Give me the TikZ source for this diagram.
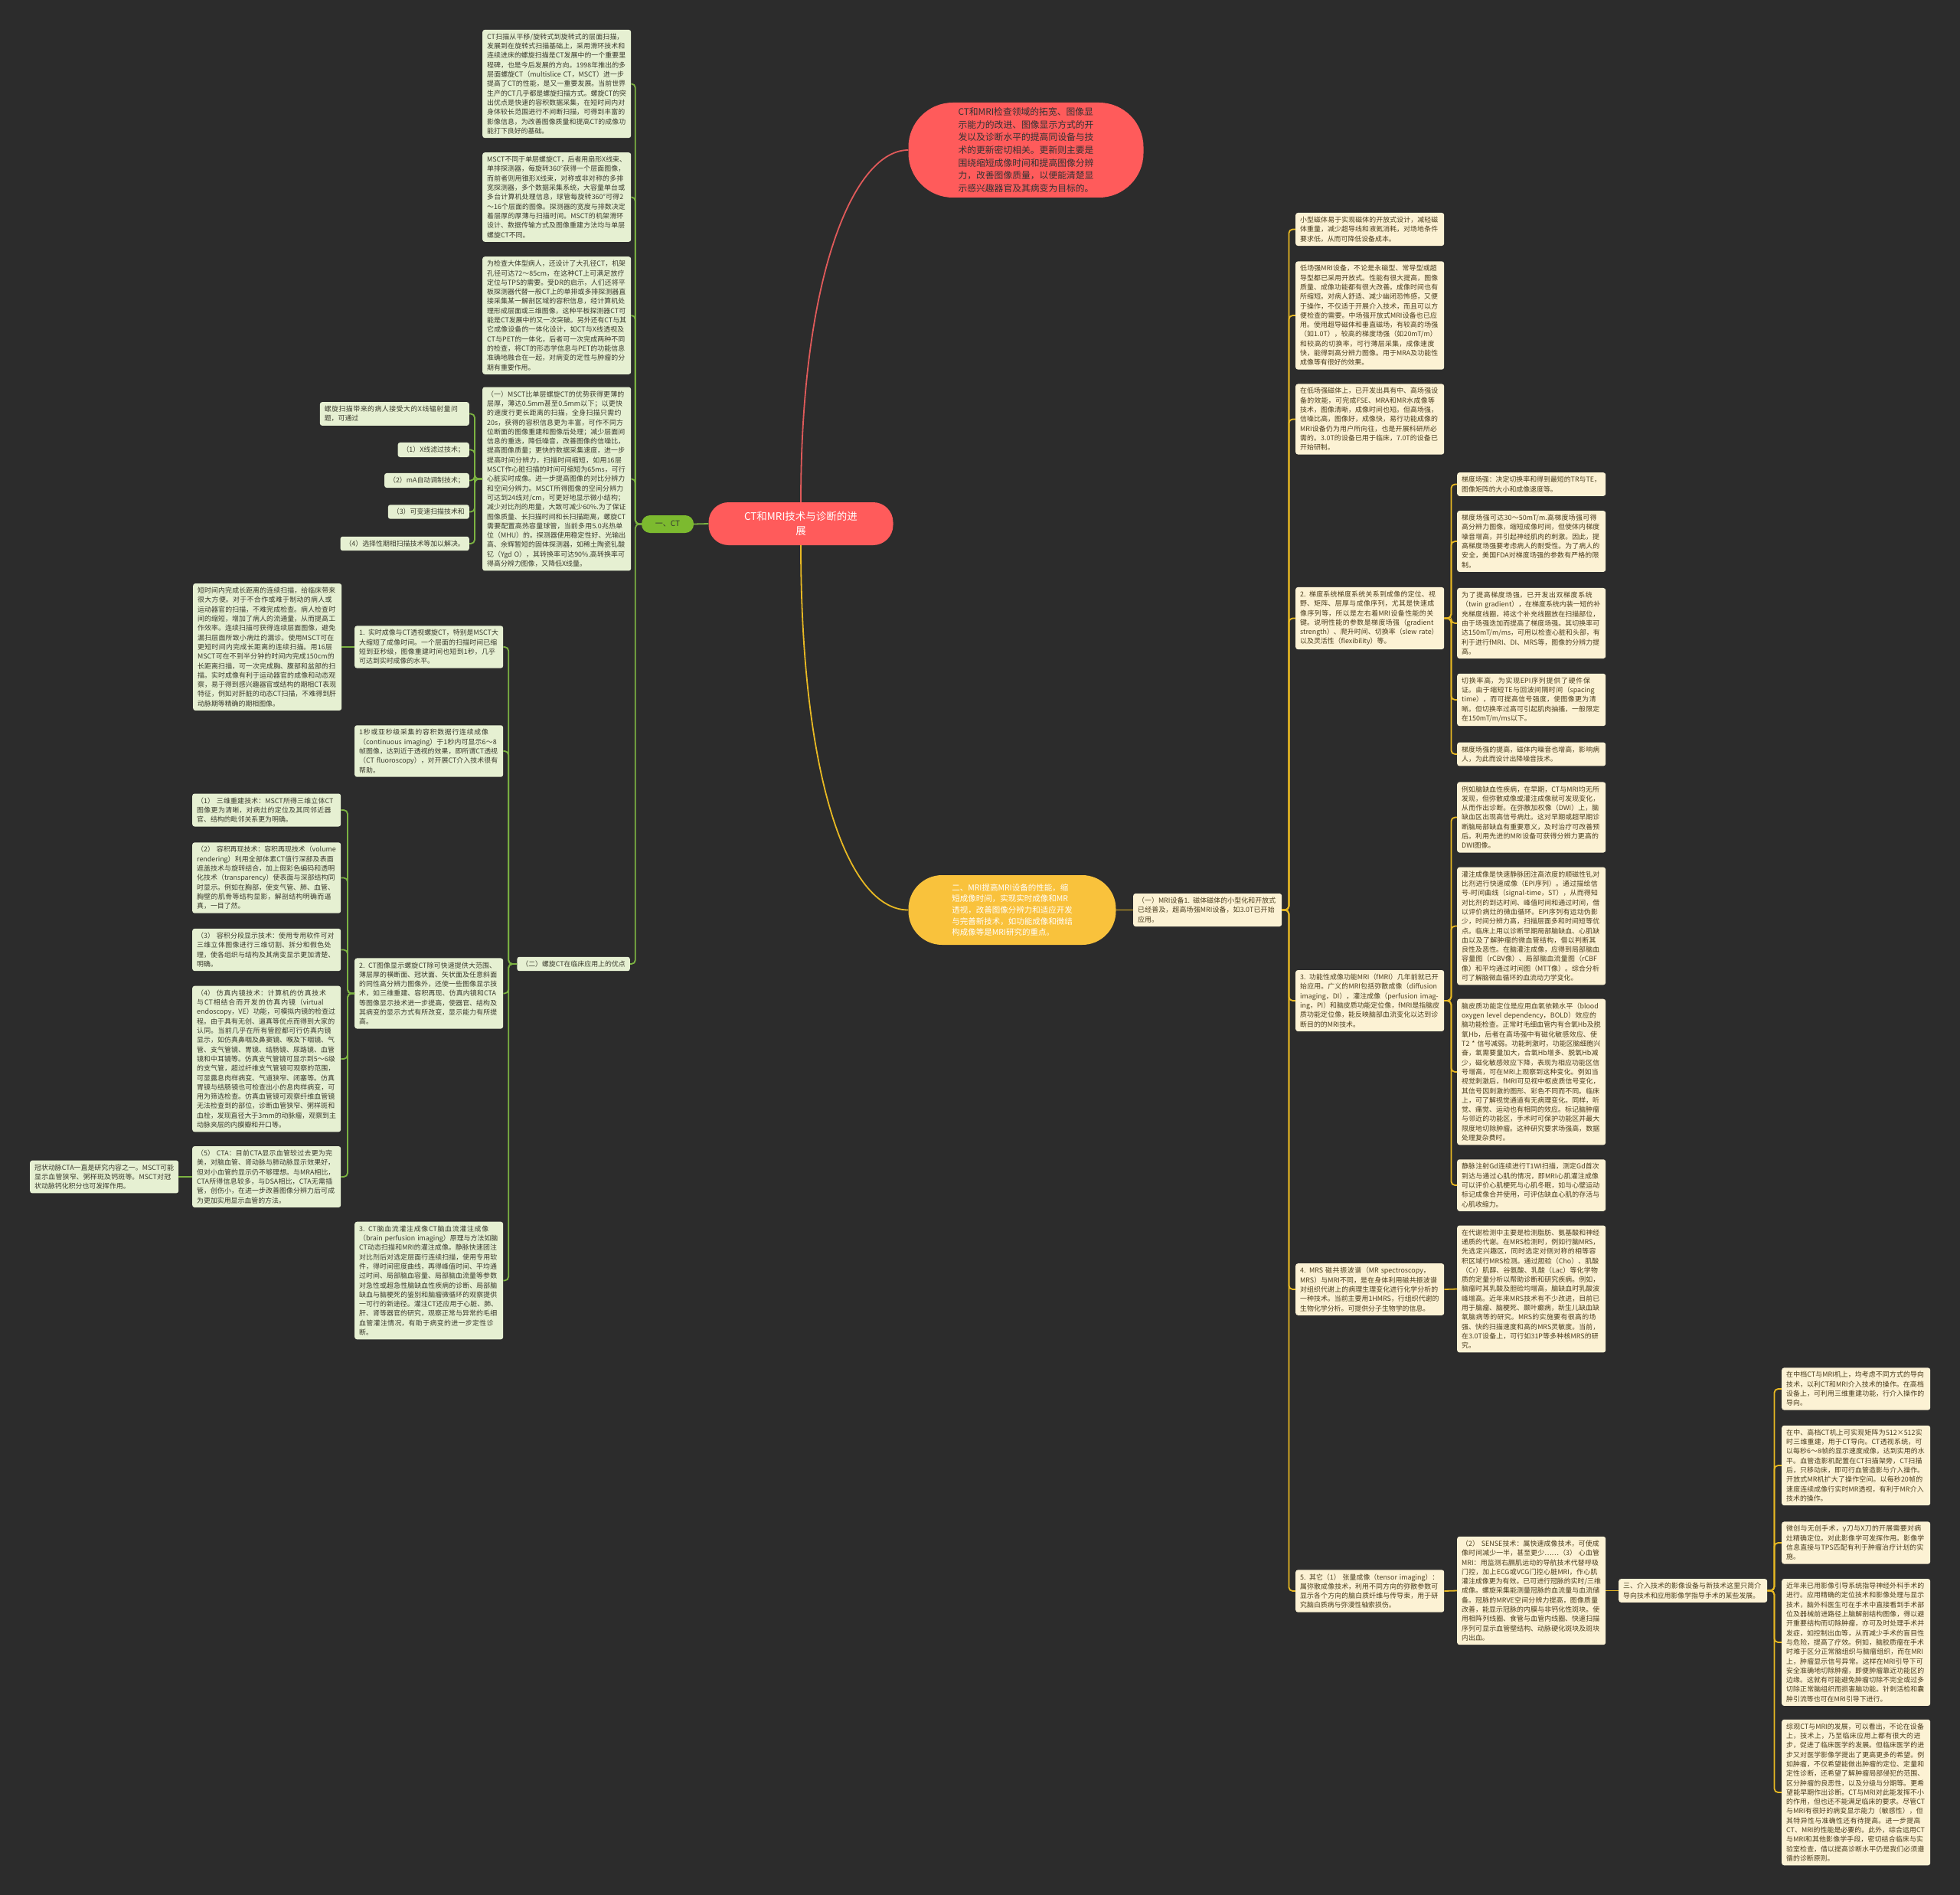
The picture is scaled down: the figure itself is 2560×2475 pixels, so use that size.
\documentclass[tikz,border=0pt]{standalone}
\usepackage{fontspec}
\setmainfont{Noto Sans CJK SC}
\usepackage{xcolor}
\usetikzlibrary{positioning,calc}
\XeTeXlinebreaklocale "zh"
\XeTeXlinebreakskip=0pt plus 1pt
\definecolor{bgdark}{HTML}{2C2C2C}
\definecolor{ctfill}{HTML}{E6F0D2}
\definecolor{cttext}{HTML}{3A3A2C}
\definecolor{ctline}{HTML}{7CB342}
\definecolor{mrfill}{HTML}{FCF2D4}
\definecolor{mrtext}{HTML}{4A3C1C}
\definecolor{mrline}{HTML}{E8B923}
\definecolor{topred}{HTML}{FF5B5B}
\definecolor{redline}{HTML}{E05A5A}
\definecolor{mrorange}{HTML}{F9C23C}
\definecolor{ctgreen}{HTML}{7CBA2F}
\newcommand{\boxfont}{\fontsize{8.9}{12.3}\selectfont}

\begin{document}
\begin{tikzpicture}[x=1pt,y=-1pt,
  ctbox/.style={rectangle, rounded corners=3pt, fill=ctfill, text=cttext, font=\boxfont,
                text width=182pt, align=left, inner xsep=6pt, inner ysep=5pt, anchor=west},
  ctleaf/.style={rectangle, rounded corners=3pt, fill=ctfill, text=cttext, font=\boxfont,
                 inner xsep=6pt, inner ysep=5pt, anchor=east},
  mrbox/.style={rectangle, rounded corners=3pt, fill=mrfill, text=mrtext, font=\boxfont,
                text width=182pt, align=left, inner xsep=6pt, inner ysep=5pt, anchor=west},
  gline/.style={draw=ctline, line width=1.8pt, rounded corners=5pt},
  yline/.style={draw=mrline, line width=1.8pt, rounded corners=5pt}]
  \fill[bgdark] (0,0) rectangle (2560,2475);
  % root and main topics
  \node[fill=topred, text=white, rounded corners=26pt, minimum width=241pt, minimum height=56pt,
        font=\fontsize{13.5}{19}\selectfont, align=center] (root) at (1046,684)
        {CT和MRI技术与诊断的进\\展};
  \node[fill=topred, text=black!80, rounded corners=58pt, minimum width=307pt, minimum height=124pt,
        font=\fontsize{11.8}{16.6}\selectfont, align=left] (intro) at (1340,196)
        {CT和MRI检查领域的拓宽、图像显\\示能力的改进、图像显示方式的开\\发以及诊断水平的提高同设备与技\\术的更新密切相关。更新则主要是\\围绕缩短成像时间和提高图像分辨\\力，改善图像质量，以便能清楚显\\示感兴趣器官及其病变为目标的。};
  \node[fill=ctgreen, text=black!80, rounded corners=11pt, minimum width=68pt, minimum height=23pt,
        font=\fontsize{10}{12}\selectfont] (ct) at (872,684.5) {一、CT};
  \node[fill=mrorange, text=white, rounded corners=44pt, minimum width=271pt, minimum height=91pt,
        font=\fontsize{10.5}{14.6}\selectfont, align=left] (mri) at (1322,1188.5)
        {二、MRI提高MRI设备的性能，缩\\短成像时间，实现实时成像和MR\\透视，改善图像分辨力和适应开发\\与完善新技术，如功能成像和微结\\构成像等是MRI研究的重点。};

  % CT branch
  \node[ctbox] (ct1) at (630,109.5) {CT扫描从平移/旋转式到旋转式的层面扫描，发展到在旋转式扫描基础上，采用滑环技术和连续进床的螺旋扫描是CT发展中的一个重要里程碑，也是今后发展的方向。1998年推出的多层面螺旋CT（multislice CT，MSCT）进一步提高了CT的性能，是又一重要发展。当前世界生产的CT几乎都是螺旋扫描方式。螺旋CT的突出优点是快速的容积数据采集，在短时间内对身体较长范围进行不间断扫描，可得到丰富的影像信息，为改善图像质量和提高CT的成像功能打下良好的基础。};
  \node[ctbox] (ct2) at (630,257.5) {MSCT不同于单层螺旋CT，后者用扇形X线束、单排探测器，每旋转360°获得一个层面图像，而前者则用锥形X线束，对称或非对称的多排宽探测器，多个数据采集系统，大容量单台或多台计算机处理信息，球管每旋转360°可得2～16个层面的图像。探测器的宽度与排数决定着层厚的厚薄与扫描时间。MSCT的机架滑环设计、数据传输方式及图像重建方法均与单层螺旋CT不同。};
  \node[ctbox] (ct3) at (630,412) {为检查大体型病人，还设计了大孔径CT，机架孔径可达72～85cm，在这种CT上可满足放疗定位与TPS的需要。受DR的启示，人们还将平板探测器代替一般CT上的单排或多排探测器直接采集某一解剖区域的容积信息，经计算机处理形成层面或三维图像，这种平板探测器CT可能是CT发展中的又一次突破。另外还有CT与其它成像设备的一体化设计，如CT与X线透视及CT与PET的一体化，后者可一次完成两种不同的检查，将CT的形态学信息与PET的功能信息准确地融合在一起，对病变的定性与肿瘤的分期有重要作用。};
  \node[ctbox] (msct) at (630,625.5) {（一）MSCT比单层螺旋CT的优势获得更薄的层厚，薄达0.5mm甚至0.5mm以下；以更快的速度行更长距离的扫描，全身扫描只需约20s，获得的容积信息更为丰富，可作不同方位断面的图像重建和图像后处理；减少层面间信息的重迭，降低噪音，改善图像的信噪比，提高图像质量；更快的数据采集速度，进一步提高时间分辨力，扫描时间缩短，如用16层MSCT作心脏扫描的时间可缩短为65ms，可行心脏实时成像。进一步提高图像的对比分辨力和空间分辨力。MSCT所得图像的空间分辨力可达到24线对/cm，可更好地显示微小结构；减少对比剂的用量，大致可减少60\%.为了保证图像质量、长扫描时间和长扫描距离，螺旋CT需要配置高热容量球管，当前多用5.0兆热单位（MHU）的。探测器使用稳定性好、光输出高、余辉暂短的固体探测器，如稀土陶瓷钆酸钇（Ygd O），其转换率可达90\%.高转换率可得高分辨力图像，又降低X线量。};
  \node[ctleaf, text width=183pt, align=left] (dose) at (613,540.5) {螺旋扫描带来的病人接受大的X线辐射量问题，可通过};
  \node[ctleaf] (flt) at (613,587.5) {（1）X线滤过技术；};
  \node[ctleaf] (mas) at (613,627.5) {（2）mA自动调制技术；};
  \node[ctleaf] (vsp) at (613,668.5) {（3）可变速扫描技术和};
  \node[ctleaf] (phs) at (613,710) {（4）选择性期相扫描技术等加以解决。};
  \node[ctleaf] (adv) at (823,1259) {（二）螺旋CT在临床应用上的优点};
  \node[ctbox] (rt1) at (463,845) {1. 实时成像与CT透视螺旋CT，特别是MSCT大大缩短了成像时间。一个层面的扫描时间已缩短到亚秒级，图像重建时间也短到1秒，几乎可达到实时成像的水平。};
  \node[ctbox] (rta) at (252,845) {短时间内完成长距离的连续扫描，给临床带来很大方便。对于不合作或难于制动的病人或运动器官的扫描，不难完成检查。病人检查时间的缩短，增加了病人的流通量，从而提高工作效率。连续扫描可获得连续层面图像，避免漏扫层面所致小病灶的漏诊。使用MSCT可在更短时间内完成长距离的连续扫描。用16层MSCT可在不到半分钟的时间内完成150cm的长距离扫描，可一次完成胸、腹部和盆部的扫描。实时成像有利于运动器官的成像和动态观察，易于得到感兴趣器官或结构的期相CT表现特征，例如对肝脏的动态CT扫描，不难得到肝动脉期等精确的期相图像。};
  \node[ctbox] (rt2) at (463,981) {1秒或亚秒级采集的容积数据行连续成像（continuous imaging）于1秒内可显示6～8帧图像，达到近于透视的效果，即所谓CT透视（CT fluoroscopy），对开展CT介入技术很有帮助。};
  \node[ctbox] (disp) at (463,1297.5) {2. CT图像显示螺旋CT除可快速提供大范围、薄层厚的横断面、冠状面、矢状面及任意斜面的同性高分辨力图像外，还使一些图像显示技术，如三维重建、容积再现、仿真内镜和CTA等图像显示技术进一步提高，使器官、结构及其病变的显示方式有所改变，显示能力有所提高。};
  \node[ctbox] (d1) at (251,1058) {（1） 三维重建技术：MSCT所得三维立体CT图像更为清晰，对病灶的定位及其同邻近器官、结构的毗邻关系更为明确。};
  \node[ctbox] (d2) at (251,1146.5) {（2） 容积再现技术：容积再现技术（volume rendering）利用全部体素CT值行深部及表面遮盖技术与旋转结合，加上假彩色编码和透明化技术（transparency）使表面与深部结构同时显示。例如在胸部，使支气管、肺、血管、胸壁的肌骨等结构显影，解剖结构明确而逼真，一目了然。};
  \node[ctbox] (d3) at (251,1240.5) {（3） 容积分段显示技术：使用专用软件可对三维立体图像进行三维切割、拆分和假色处理，使各组织与结构及其病变显示更加清楚、明确。};
  \node[ctbox] (d4) at (251,1383) {（4） 仿真内镜技术：计算机的仿真技术与CT相结合而开发的仿真内镜（virtual endoscopy，VE）功能，可模拟内镜的检查过程。由于具有无创、逼真等优点而得到大家的认同。当前几乎在所有管腔都可行仿真内镜显示，如仿真鼻咽及鼻窦镜、喉及下咽镜、气管、支气管镜、胃镜、结肠镜、尿路镜、血管镜和中耳镜等。仿真支气管镜可显示到5～6级的支气管，超过纤维支气管镜可观察的范围，可显露息肉样病变、气道狭窄、闭塞等。仿真胃镜与结肠镜也可检查出小的息肉样病变，可用为筛选检查。仿真血管镜可观察纤维血管镜无法检查到的部位，诊断血管狭窄、粥样斑和血栓，发现直径大于3mm的动脉瘤，观察到主动脉夹层的内膜瓣和开口等。};
  \node[ctbox] (d5) at (251,1537) {（5） CTA：目前CTA显示血管较过去更为完美，对脑血管、肾动脉与肺动脉显示效果好，但对小血管的显示仍不够理想。与MRA相比，CTA所得信息较多，与DSA相比，CTA无需插管，创伤小，在进一步改善图像分辨力后可成为更加实用显示血管的方法。};
  \node[ctbox] (d5a) at (39,1537) {冠状动脉CTA一直是研究内容之一。MSCT可能显示血管狭窄、粥样斑及钙斑等。MSCT对冠状动脉钙化积分也可发挥作用。};
  \node[ctbox] (perf) at (463,1672.5) {3. CT脑血流灌注成像CT脑血流灌注成像（brain perfusion imaging）原理与方法如脑CT动态扫描和MRI的灌注成像。静脉快速团注对比剂后对选定层面行连续扫描，使用专用软件，得时间密度曲线，再得峰值时间、平均通过时间、局部脑血容量、局部脑血流量等参数对急性或超急性脑缺血性疾病的诊断、局部脑缺血与脑梗死的鉴别和脑瘤微循环的观察提供一可行的新途径。灌注CT还应用于心脏、肺、肝、肾等器官的研究，观察正常与异常的毛细血管灌注情况，有助于病变的进一步定性诊断。};

  % MRI branch
  \node[mrbox] (dev) at (1480,1188.5) {（一）MRI设备1. 磁体磁体的小型化和开放式已经普及，超高场强MRI设备，如3.0T已开始应用。};
  \node[mrbox] (mag1) at (1692,299.5) {小型磁体易于实现磁体的开放式设计，减轻磁体重量，减少超导线和液氦消耗，对场地条件要求低，从而可降低设备成本。};
  \node[mrbox] (mag2) at (1692,412) {低场强MRI设备，不论是永磁型、常导型或超导型都已采用开放式。性能有很大提高，图像质量、成像功能都有很大改善。成像时间也有所缩短。对病人舒适、减少幽闭恐怖感，又便于操作，不仅适于开展介入技术，而且可以方便检查的需要。中场强开放式MRI设备也已应用。使用超导磁体和垂直磁场，有较高的场强（如1.0T），较高的梯度场强（如20mT/m）和较高的切换率，可行薄层采集，成像速度快，能得到高分辨力图像。用于MRA及功能性成像等有很好的效果。};
  \node[mrbox] (mag3) at (1692,547.5) {在低场强磁体上，已开发出具有中、高场强设备的效能，可完成FSE、MRA和MR水成像等技术，图像清晰，成像时间也短。但高场强，信噪比高，图像好，成像快，易行功能成像的MRI设备仍为用户所向往，也是开展科研所必需的。3.0T的设备已用于临床，7.0T的设备已开始研制。};
  \node[mrbox] (grad) at (1692,807.5) {2. 梯度系统梯度系统关系到成像的定位、视野、矩阵、层厚与成像序列，尤其是快速成像序列等，所以是左右着MRI设备性能的关键。说明性能的参数是梯度场强（gradient strength）、爬升时间、切换率（slew rate）以及灵活性（flexibility）等。};
  \node[mrbox] (gr1) at (1903,632.5) {梯度场强：决定切换率和得到最短的TR与TE，图像矩阵的大小和成像速度等。};
  \node[mrbox] (gr2) at (1903,707) {梯度场强可达30～50mT/m.高梯度场强可得高分辨力图像，缩短成像时间，但使体内梯度噪音增高，并引起神经肌肉的刺激。因此，提高梯度场强要考虑病人的耐受性。为了病人的安全，美国FDA对梯度场强的参数有严格的限制。};
  \node[mrbox] (gr3) at (1903,814) {为了提高梯度场强，已开发出双梯度系统（twin gradient），在梯度系统内装一短的补充梯度线圈，将这个补充线圈放在扫描部位，由于场强迭加而提高了梯度场强。其切换率可达150mT/m/ms，可用以检查心脏和头部，有利于进行fMRI、DI、MRS等，图像的分辨力提高。};
  \node[mrbox] (gr4) at (1903,914) {切换率高，为实现EPI序列提供了硬件保证。由于缩短TE与回波间隔时间（spacing time），而可提高信号强度，使图像更为清晰。但切换率过高可引起肌肉抽搐，一般限定在150mT/m/ms以下。};
  \node[mrbox] (gr5) at (1903,985) {梯度场强的提高，磁体内噪音也增高，影响病人，为此而设计出降噪音技术。};
  \node[mrbox] (fmri) at (1692,1307) {3. 功能性成像功能MRI（fMRI）几年前就已开始应用。广义的MRI包括弥散成像（diffusion imaging，DI），灌注成像（perfusion imaging，PI）和脑皮质功能定位像，fMRI是指脑皮质功能定位像，能反映脑部血流变化以达到诊断目的的MRI技术。};
  \node[mrbox] (fm1) at (1903,1067.5) {例如脑缺血性疾病，在早期，CT与MRI均无所发现，但弥散成像或灌注成像就可发现变化，从而作出诊断。在弥散加权像（DWI）上，脑缺血区出现高信号病灶。这对早期或超早期诊断脑局部缺血有重要意义，及时治疗可改善预后。利用先进的MRI设备可获得分辨力更高的DWI图像。};
  \node[mrbox] (fm2) at (1903,1209.5) {灌注成像是快速静脉团注高浓度的顺磁性钆对比剂进行快速成像（EPI序列）。通过描绘信号-时间曲线（signal-time，ST），从而得知对比剂的到达时间、峰值时间和通过时间，借以评价病灶的微血循环。EPI序列有运动伪影少，时间分辨力高，扫描层面多和时间短等优点。临床上用以诊断早期局部脑缺血、心肌缺血以及了解肿瘤的微血管结构，借以判断其良性及恶性。在脑灌注成像，应得到局部脑血容量图（rCBV像）、局部脑血流量图（rCBF像）和平均通过时间图（MTT像）。综合分析可了解脑微血循环的血流动力学变化。};
  \node[mrbox] (fm3) at (1903,1400) {脑皮质功能定位是应用血氧依赖水平（blood oxygen level dependency，BOLD）效应的脑功能检查。正常时毛细血管内有合氧Hb及脱氧Hb，后者在高场强中有磁化敏感效应、使T2 * 信号减弱。功能刺激时，功能区脑细胞兴奋，氧需要量加大，合氧Hb增多、脱氧Hb减少，磁化敏感效应下降，表现为相应功能区信号增高，可在MRI上观察到这种变化。例如当视觉刺激后，fMRI可见视中枢皮质信号变化，其信号因刺激的图形、彩色不同而不同。临床上，可了解视觉通道有无病理变化。同样，听觉、痛觉、运动也有相同的效应。标记脑肿瘤与邻近的功能区，手术时可保护功能区并最大限度地切除肿瘤。这种研究要求场强高，数据处理复杂费时。};
  \node[mrbox] (fm4) at (1903,1548) {静脉注射Gd连续进行T1WI扫描，测定Gd首次到达与通过心肌的情况，即MRI心肌灌注成像可以评价心肌梗死与心肌冬眠，如与心壁运动标记成像合并使用，可评估缺血心肌的存活与心肌收缩力。};
  \node[mrbox] (mrs) at (1692,1684) {4. MRS 磁共振波谱（MR spectroscopy，MRS）与MRI不同，是在身体利用磁共振波谱对组织代谢上的病理生理变化进行化学分析的一种技术。当前主要用1HMRS，行组织代谢的生物化学分析。可提供分子生物学的信息。};
  \node[mrbox] (mrs1) at (1903,1683.5) {在代谢检测中主要是检测脂肪、氨基酸和神经递质的代谢。在MRS检测时，例如行脑MRS，先选定兴趣区，同时选定对侧对称的相等容积区域行MRS检测。通过胆硷（Cho）、肌酸（Cr）肌醇、谷氨酸、乳酸（Lac）等化学物质的定量分析以帮助诊断和研究疾病。例如，脑瘤时其乳酸及胆硷均增高，脑缺血时乳酸波峰增高。近年来MRS技术有不少改进，目前已用于脑瘤、脑梗死、颞叶癫病，新生儿缺血缺氧脑病等的研究。MRS的实施要有很高的场强、快的扫描速度和高的MRS灵敏度。当前，在3.0T设备上，可行如31P等多种核MRS的研究。};
  \node[mrbox] (oth) at (1692,2078) {5. 其它（1） 张量成像（tensor imaging）：属弥散成像技术，利用不同方向的弥散参数可显示各个方向的脑白质纤维与传导束，用于研究脑白质病与弥漫性轴索损伤。};
  \node[mrbox] (sense) at (1903,2077.5) {（2） SENSE技术：属快速成像技术，可使成像时间减少一半，甚至更少……（3） 心血管MRI：用监测右膈肌运动的导航技术代替呼吸门控，加上ECG或VCG门控心脏MRI，作心肌灌注成像更为有效。已可进行冠脉的实时/三维成像。螺旋采集能测量冠脉的血流量与血流储备。冠脉的MRVE空间分辨力提高，图像质量改善，能显示冠脉的内膜与非钙化性斑块。使用相阵列线圈、食管与血管内线圈、快速扫描序列可显示血管壁结构、动脉硬化斑块及斑块内出血。};
  \node[mrbox] (intv) at (2114,2077.5) {三、介入技术的影像设备与新技术这里只简介导向技术和应用影像学指导手术的某些发展。};
  \node[mrbox] (iv1) at (2327,1814) {在中档CT与MRI机上，均考虑不同方式的导向技术，以利CT和MRI介入技术的操作。在高档设备上，可利用三维重建功能，行介入操作的导向。};
  \node[mrbox] (iv2) at (2327,1914) {在中、高档CT机上可实现矩阵为512×512实时三维重建，用于CT导向。CT透视系统，可以每秒6～8帧的显示速度成像，达到实用的水平。血管造影机配置在CT扫描架旁，CT扫描后，只移动床，即可行血管造影与介入操作。 开放式MR机扩大了操作空间。以每秒20帧的速度连续成像行实时MR透视，有利于MR介入技术的操作。};
  \node[mrbox] (iv3) at (2327,2015) {微创与无创手术，γ刀与X刀的开展需要对病灶精确定位。对此影像学可发挥作用。影像学信息直接与TPS匹配有利于肿瘤治疗计划的实施。};
  \node[mrbox] (iv4) at (2327,2145) {近年来已用影像引导系统指导神经外科手术的进行。应用精确的定位技术和影像处理与显示技术，脑外科医生可在手术中直接看到手术部位及器械前进路径上脑解剖结构图像，得以避开重要结构而切除肿瘤，亦可及时处理手术并发症，如控制出血等，从而减少手术的盲目性与危险，提高了疗效。例如，脑胶质瘤在手术时难于区分正常脑组织与脑瘤组织，而在MRI上，肿瘤显示信号异常。这样在MRI引导下可安全准确地切除肿瘤，即便肿瘤靠近功能区的边缘。这就有可能避免肿瘤切除不完全或过多切除正常脑组织而损害脑功能。针刺活检和囊肿引流等也可在MRI引导下进行。};
  \node[mrbox] (iv5) at (2327,2341) {综观CT与MRI的发展，可以看出，不论在设备上，技术上，乃至临床应用上都有很大的进步，促进了临床医学的发展。但临床医学的进步又对医学影像学提出了更高更多的希望。例如肿瘤，不仅希望能做出肿瘤的定位、定量和定性诊断，还希望了解肿瘤局部侵犯的范围、区分肿瘤的良恶性，以及分级与分期等。更希望能早期作出诊断。CT与MRI对此能发挥不小的作用，但也还不能满足临床的要求。尽管CT与MRI有很好的病变显示能力（敏感性），但其特异性与准确性还有待提高。进一步提高CT、MRI的性能是必要的。此外，综合运用CT与MRI和其他影像学手段，密切结合临床与实验室检查，借以提高诊断水平仍是我们必须遵循的诊断原则。};

  % connectors
  \draw[redline, line width=1.8pt] (root.north) .. controls +(0,-300) and +(-70,0) .. (intro.west);
  \draw[mrline, line width=1.8pt] (root.south) .. controls +(0,300) and +(-80,0) .. (mri.west);
  \draw[ctline, line width=1.8pt] (root.west) -- (ct.east);
  \draw[gline] (ct.west) -- ++(-8,0) |- (ct1.east);
  \draw[gline] (ct.west) -- ++(-8,0) |- (ct2.east);
  \draw[gline] (ct.west) -- ++(-8,0) |- (ct3.east);
  \draw[gline] (ct.west) -- ++(-8,0) |- (msct.east);
  \draw[gline] (ct.west) -- ++(-8,0) |- (adv.east);
  \draw[gline] (msct.west) -- ++(-10,0) |- (dose.east);
  \draw[gline] (msct.west) -- ++(-10,0) |- (flt.east);
  \draw[gline] (msct.west) -- ++(-10,0) |- (mas.east);
  \draw[gline] (msct.west) -- ++(-10,0) |- (vsp.east);
  \draw[gline] (msct.west) -- ++(-10,0) |- (phs.east);
  \draw[gline] (adv.west) -- ++(-11,0) |- (rt1.east);
  \draw[gline] (adv.west) -- ++(-11,0) |- (rt2.east);
  \draw[gline] (adv.west) -- ++(-11,0) |- (disp.east);
  \draw[gline] (adv.west) -- ++(-11,0) |- (perf.east);
  \draw[gline] (rt1.west) -- (rta.east);
  \draw[gline] (disp.west) -- ++(-9,0) |- (d1.east);
  \draw[gline] (disp.west) -- ++(-9,0) |- (d2.east);
  \draw[gline] (disp.west) -- ++(-9,0) |- (d3.east);
  \draw[gline] (disp.west) -- ++(-9,0) |- (d4.east);
  \draw[gline] (disp.west) -- ++(-9,0) |- (d5.east);
  \draw[gline] (d5.west) -- (d5a.east);
  \draw[yline] (mri.east) -- (dev.west);
  \draw[yline] (dev.east) -- ++(9,0) |- (mag1.west);
  \draw[yline] (dev.east) -- ++(9,0) |- (mag2.west);
  \draw[yline] (dev.east) -- ++(9,0) |- (mag3.west);
  \draw[yline] (dev.east) -- ++(9,0) |- (grad.west);
  \draw[yline] (dev.east) -- ++(9,0) |- (fmri.west);
  \draw[yline] (dev.east) -- ++(9,0) |- (mrs.west);
  \draw[yline] (dev.east) -- ++(9,0) |- (oth.west);
  \draw[yline] (grad.east) -- ++(9,0) |- (gr1.west);
  \draw[yline] (grad.east) -- ++(9,0) |- (gr2.west);
  \draw[yline] (grad.east) -- ++(9,0) |- (gr3.west);
  \draw[yline] (grad.east) -- ++(9,0) |- (gr4.west);
  \draw[yline] (grad.east) -- ++(9,0) |- (gr5.west);
  \draw[yline] (fmri.east) -- ++(9,0) |- (fm1.west);
  \draw[yline] (fmri.east) -- ++(9,0) |- (fm2.west);
  \draw[yline] (fmri.east) -- ++(9,0) |- (fm3.west);
  \draw[yline] (fmri.east) -- ++(9,0) |- (fm4.west);
  \draw[yline] (mrs.east) -- (mrs1.west);
  \draw[yline] (oth.east) -- (sense.west);
  \draw[yline] (sense.east) -- (intv.west);
  \draw[yline] (intv.east) -- ++(9,0) |- (iv1.west);
  \draw[yline] (intv.east) -- ++(9,0) |- (iv2.west);
  \draw[yline] (intv.east) -- ++(9,0) |- (iv3.west);
  \draw[yline] (intv.east) -- ++(9,0) |- (iv4.west);
  \draw[yline] (intv.east) -- ++(9,0) |- (iv5.west);
\end{tikzpicture}
\end{document}
